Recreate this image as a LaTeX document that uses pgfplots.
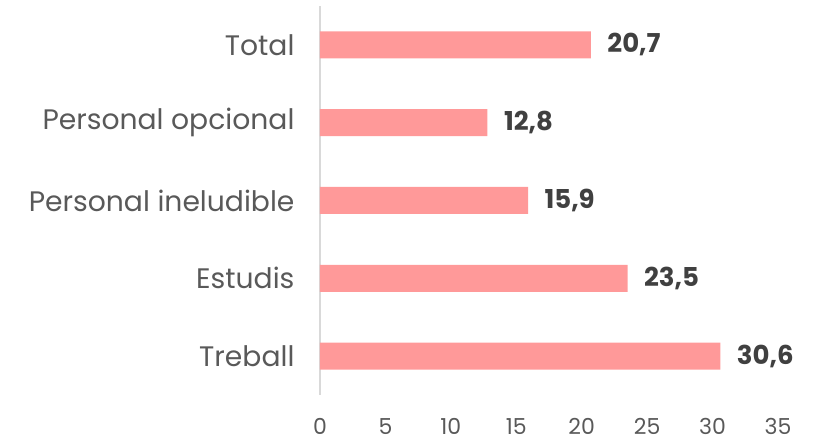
\documentclass[border=0pt]{standalone}
\usepackage{fontspec}
\setmainfont{Poppins}
\usepackage{pgfplots}
\pgfplotsset{compat=1.18}
\definecolor{barpink}{HTML}{FF9999}
\definecolor{txtgray}{HTML}{595959}
\definecolor{valgray}{HTML}{404040}
\definecolor{axgray}{HTML}{D9D9D9}
\begin{document}
\begin{tikzpicture}
\path[use as bounding box] (-320pt,-48pt) rectangle (496pt,395pt);
\begin{axis}[
  at={(0,0)}, anchor=south west,
  scale only axis,
  width=458pt, height=389pt,
  xbar, bar width=27pt,
  xmin=0, xmax=35,
  ymin=-0.5, ymax=4.5,
  xtick={0,5,...,35},
  xticklabels={0,5,10,15,20,25,30,35},
  ytick={0,1,2,3,4},
  yticklabels={Treball,Estudis,Personal ineludible,Personal opcional,Total},
  axis x line*=bottom,
  axis y line*=left,
  separate axis lines,
  y axis line style={draw=axgray, line width=1.2pt, -},
  x axis line style={draw=none, -},
  major tick length=0pt,
  tick style={draw=none},
  xticklabel style={font=\fontsize{22}{26}\selectfont, text=txtgray, yshift=-20pt},
  yticklabel style={font=\fontsize{28.2}{32}\selectfont, text=txtgray, xshift=-22pt},
  nodes near coords={\pgfmathprintnumber[assume math mode=true,use comma,fixed,fixed zerofill,precision=1]{\pgfplotspointmeta}},
  nodes near coords style={font=\fontsize{26}{30}\selectfont\bfseries, text=valgray, anchor=west, xshift=13pt},
]
\addplot[fill=barpink, draw=none] coordinates {(30.6,0) (23.5,1) (15.9,2) (12.8,3) (20.7,4)};
\end{axis}
\end{tikzpicture}
\end{document}
